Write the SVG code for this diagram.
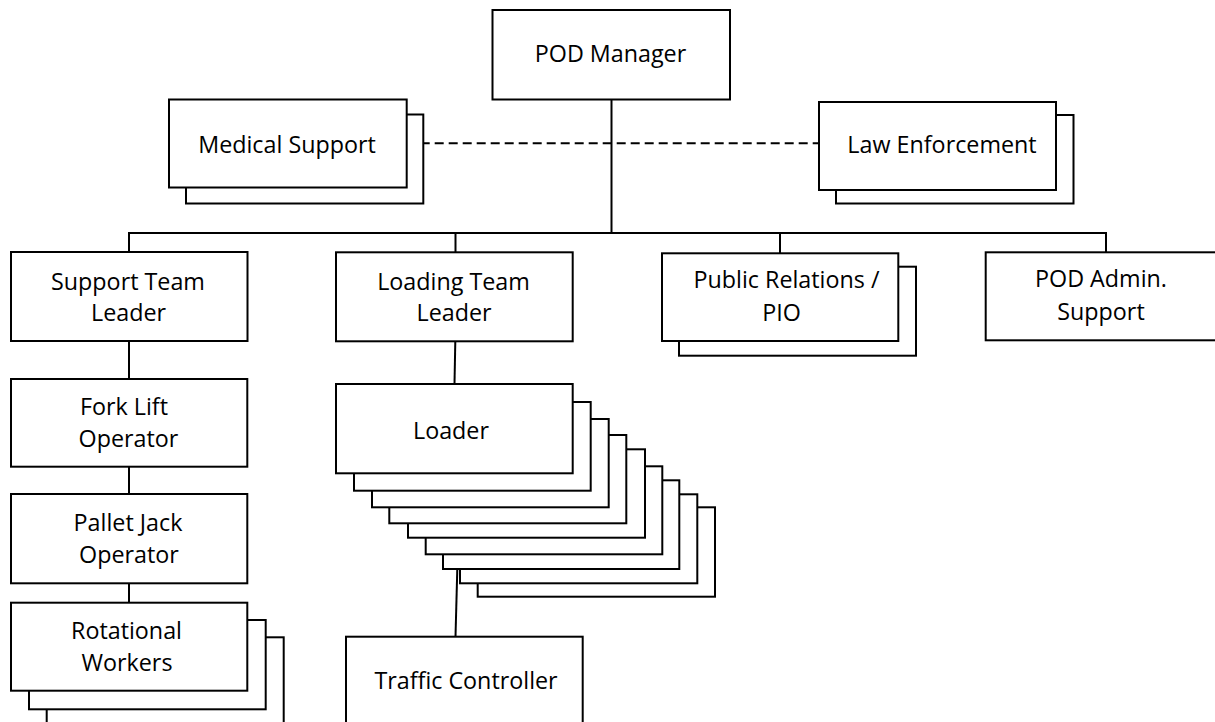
<svg xmlns="http://www.w3.org/2000/svg" width="1215" height="722" viewBox="0 0 1215 722">
<style>
  .box { fill: #ffffff; stroke: #000000; stroke-width: 2; }
  .ln { fill: none; stroke: #000000; stroke-width: 2; }
  .dash { fill: none; stroke: #000000; stroke-width: 2; stroke-dasharray: 9 5; }
  text { font-family: "Open Sans", "Noto Sans", "Liberation Sans", sans-serif; font-size: 23.3px; fill: #000000; text-anchor: middle; }
</style>
<rect x="0" y="0" width="1215" height="722" fill="#ffffff"/>
<g id="connectors">
  <line class="dash" x1="406.7" y1="143.3" x2="819" y2="143.3"/>
  <line class="ln" x1="611.5" y1="99.5" x2="611.5" y2="233"/>
  <polyline class="ln" points="129,252 129,233 1106,233 1106,252.3"/>
  <line class="ln" x1="455.5" y1="233" x2="455.5" y2="252.3"/>
  <line class="ln" x1="780" y1="233" x2="780" y2="253.3"/>
  <line class="ln" x1="129" y1="341" x2="129" y2="379"/>
  <line class="ln" x1="129" y1="466.7" x2="129" y2="494"/>
  <line class="ln" x1="129" y1="583.3" x2="129" y2="602.7"/>
  <line class="ln" x1="455.3" y1="341.3" x2="454.5" y2="384"/>
</g>
<g id="pod-manager">
  <rect class="box" x="492.5" y="10" width="237.5" height="89.5"/>
  <text x="610.5" y="62">POD Manager</text>
</g>
<g id="medical-support">
  <rect class="box" x="186" y="114.5" width="237.3" height="89"/>
  <rect class="box" x="169" y="99.5" width="237.7" height="88"/>
  <text x="287" y="152.5">Medical Support</text>
</g>
<g id="law-enforcement">
  <rect class="box" x="836" y="115" width="237.5" height="88.5"/>
  <rect class="box" x="819" y="102" width="237" height="88"/>
  <text x="942" y="152.5">Law Enforcement</text>
</g>
<g id="support-team-leader">
  <rect class="box" x="11" y="252" width="236.5" height="89"/>
  <text x="128" y="289.5">Support Team</text>
  <text x="128.5" y="320.5">Leader</text>
</g>
<g id="loading-team-leader">
  <rect class="box" x="336" y="252.3" width="236.7" height="89"/>
  <text x="453.5" y="289.5">Loading Team</text>
  <text x="454" y="321">Leader</text>
</g>
<g id="public-relations">
  <rect class="box" x="679" y="266.7" width="237" height="89"/>
  <rect class="box" x="662" y="253.3" width="236.3" height="87.7"/>
  <text x="786.5" y="288">Public Relations /</text>
  <text x="781.5" y="321">PIO</text>
</g>
<g id="pod-admin-support">
  <rect class="box" x="985.7" y="252.3" width="236.5" height="88"/>
  <text x="1101" y="287">POD Admin.</text>
  <text x="1101" y="320">Support</text>
</g>
<g id="fork-lift-operator">
  <rect class="box" x="11" y="379" width="236.3" height="87.7"/>
  <text x="124" y="415">Fork Lift</text>
  <text x="128.5" y="446.7">Operator</text>
</g>
<g id="pallet-jack-operator">
  <rect class="box" x="11" y="494" width="236.3" height="89.3"/>
  <text x="128" y="531">Pallet Jack</text>
  <text x="129" y="562.7">Operator</text>
</g>
<g id="rotational-workers">
  <rect class="box" x="46.7" y="637.3" width="237" height="89"/>
  <rect class="box" x="29" y="620" width="236.7" height="89.3"/>
  <rect class="box" x="11" y="602.7" width="236.3" height="88"/>
  <text x="126.5" y="639">Rotational</text>
  <text x="127" y="671">Workers</text>
</g>
<g id="loader">
  <rect class="box" x="477.7" y="507.3" width="237.3" height="89.4"/>
  <rect class="box" x="460" y="494.3" width="237.3" height="89"/>
  <rect class="box" x="443" y="480.3" width="236.3" height="88.7"/>
  <rect class="box" x="425.7" y="466.3" width="236.6" height="88"/>
  <rect class="box" x="408" y="449.3" width="237" height="88.4"/>
  <rect class="box" x="389.3" y="435" width="237" height="88.3"/>
  <rect class="box" x="372" y="419" width="236.7" height="88.3"/>
  <rect class="box" x="354" y="402" width="236.7" height="88.7"/>
  <rect class="box" x="336" y="384" width="236.7" height="89.3"/>
  <text x="451" y="438.5">Loader</text>
</g>
<g id="loader-to-traffic">
  <line class="ln" x1="457.3" y1="569" x2="455.5" y2="636.7"/>
</g>
<g id="traffic-controller">
  <rect class="box" x="346" y="636.7" width="236.7" height="90"/>
  <text x="466" y="688.5">Traffic Controller</text>
</g>
</svg>
